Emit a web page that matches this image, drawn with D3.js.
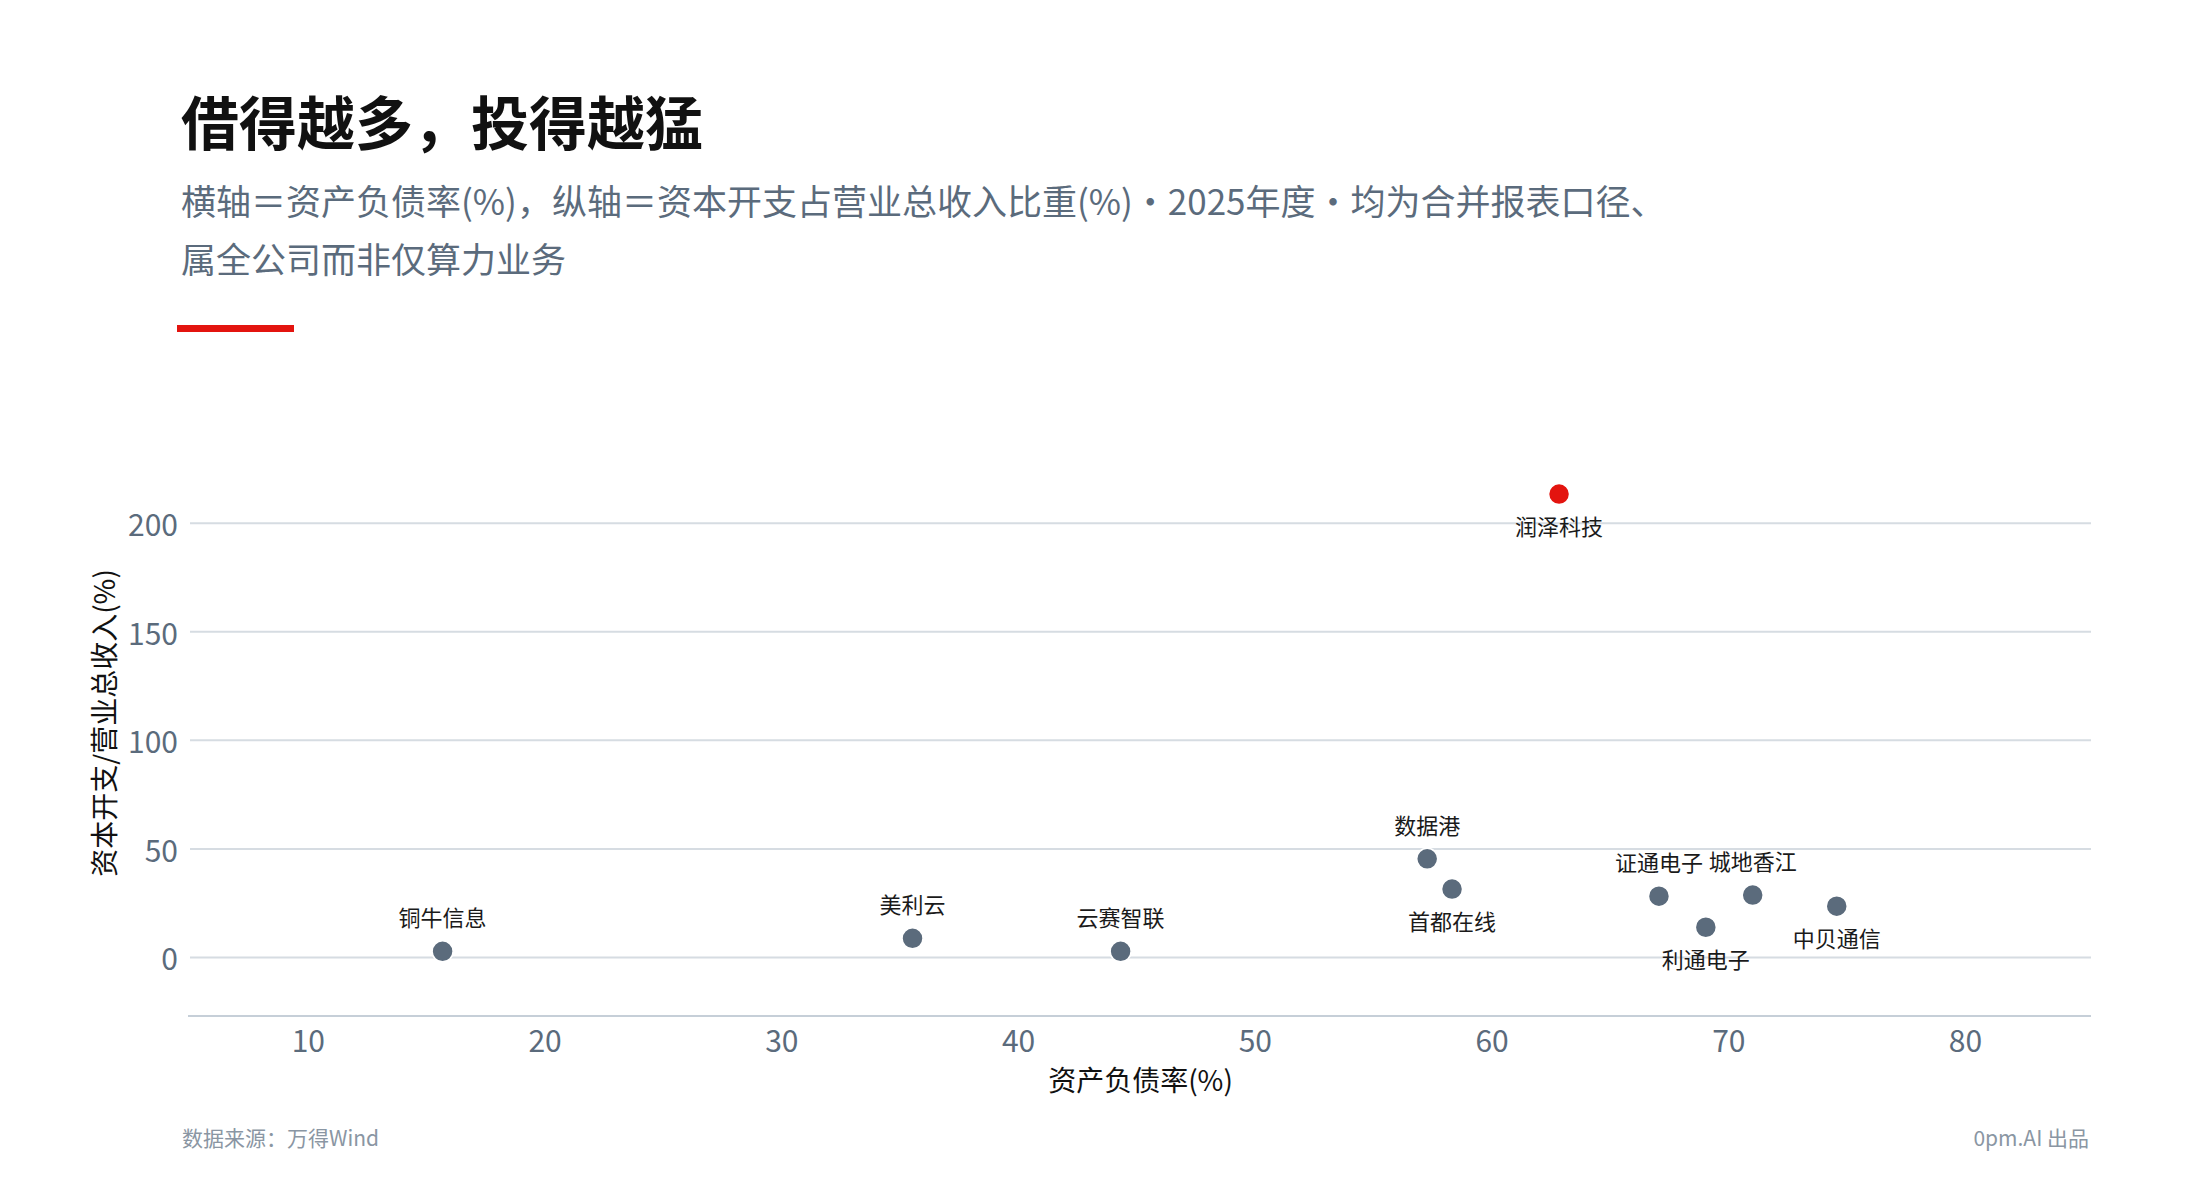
<!DOCTYPE html>
<html>
<head>
<meta charset="utf-8">
<script src="https://cdn.jsdelivr.net/npm/d3@7/dist/d3.min.js"></script>
<style>
  body { margin: 0; background: #fff; }
  svg { display: block; font-family: "Noto Sans CJK SC", "Noto Sans", sans-serif; }
</style>
</head>
<body>
<svg id="chart" width="2200" height="1200"></svg>
<script>
const companies = ['铜牛信息', '美利云', '云赛智联', '数据港', '首都在线', '润泽科技', '证通电子', '利通电子', '城地香江', '中贝通信'];
const debtRatio = [15.67, 35.52, 44.31, 57.26, 58.31, 62.83, 67.05, 69.03, 71.01, 74.56];
const capexRatio = [2.8, 8.8, 2.8, 45.4, 31.5, 213.5, 28.2, 13.9, 28.7, 23.6];
const xTicks = [10, 20, 30, 40, 50, 60, 70, 80];
const yTicks = [0, 50, 100, 150, 200];
const highlight = '润泽科技';

const svg = d3.select('#chart');
const margin = { left: 190, right: 2091, top: 430, bottom: 1016 };

const x = d3.scaleLinear().domain([5, 85.3]).range([margin.left, margin.right]);
const y = d3.scaleLinear().domain([-27, 243]).range([margin.bottom, margin.top]);

// header
svg.append('text')
  .attr('x', 181).attr('y', 145)
  .style('font-size', '58px').style('font-weight', 700).style('fill', '#111')
  .text('借得越多，投得越猛');

const sub = svg.append('text')
  .style('font-size', '35px').style('fill', '#5b6b7c');
sub.append('tspan').attr('x', 181).attr('y', 215)
  .text('横轴＝资产负债率(%)，纵轴＝资本开支占营业总收入比重(%)・2025年度・均为合并报表口径、');
sub.append('tspan').attr('x', 181).attr('y', 273)
  .text('属全公司而非仅算力业务');

svg.append('rect')
  .attr('x', 177).attr('y', 325).attr('width', 117).attr('height', 7)
  .style('fill', '#e3140f');

// grid
svg.append('g').selectAll('line')
  .data(yTicks)
  .enter()
  .append('line')
  .attr('x1', margin.left).attr('x2', margin.right)
  .attr('y1', (d) => y(d)).attr('y2', (d) => y(d))
  .style('stroke', '#d6dce2').style('stroke-width', 2);

svg.append('line')
  .attr('x1', margin.left - 2).attr('x2', margin.right)
  .attr('y1', margin.bottom).attr('y2', margin.bottom)
  .style('stroke', '#c6cfd8').style('stroke-width', 2);

svg.append('g').selectAll('text')
  .data(yTicks)
  .enter()
  .append('text')
  .attr('x', 178).attr('y', (d) => y(d))
  .attr('text-anchor', 'end').attr('dominant-baseline', 'central')
  .style('font-size', '30px').style('fill', '#5b6b7c')
  .text((d) => d);

svg.append('g').selectAll('text')
  .data(xTicks)
  .enter()
  .append('text')
  .attr('x', (d) => x(d)).attr('y', 1039)
  .attr('text-anchor', 'middle').attr('dominant-baseline', 'central')
  .style('font-size', '30px').style('fill', '#5b6b7c')
  .text((d) => d);

// axis titles
svg.append('text')
  .attr('x', (margin.left + margin.right) / 2).attr('y', 1079)
  .attr('text-anchor', 'middle').attr('dominant-baseline', 'central')
  .style('font-size', '28px').style('fill', '#111')
  .text('资产负债率(%)');

svg.append('text')
  .attr('transform', `translate(103, ${(margin.top + margin.bottom) / 2}) rotate(-90)`)
  .attr('text-anchor', 'middle').attr('dominant-baseline', 'central')
  .style('font-size', '28px').style('fill', '#111')
  .text('资本开支/营业总收入(%)');

// points
const points = companies.map((name, i) => ({ name, debt: debtRatio[i], capex: capexRatio[i] }));
const below = new Set(['首都在线', '润泽科技', '利通电子', '中贝通信']);

svg.append('g').selectAll('circle')
  .data(points)
  .enter()
  .append('circle')
  .attr('cx', (d) => x(d.debt))
  .attr('cy', (d) => y(d.capex))
  .attr('r', 10.5)
  .style('fill', (d) => (d.name === highlight ? '#e3140f' : '#5b6b7c'))
  .style('stroke', '#fff').style('stroke-width', 1.5);

svg.append('g').selectAll('text')
  .data(points)
  .enter()
  .append('text')
  .attr('x', (d) => x(d.debt))
  .attr('y', (d) => y(d.capex) + (below.has(d.name) ? 31 : -35))
  .attr('text-anchor', 'middle').attr('dominant-baseline', 'central')
  .style('font-size', '22px').style('fill', '#1a1a1a')
  .text((d) => d.name);

// footer
svg.append('text')
  .attr('x', 182).attr('y', 1137)
  .attr('dominant-baseline', 'central')
  .style('font-size', '21px').style('fill', '#8a96a3')
  .text('数据来源：万得Wind');

svg.append('text')
  .attr('x', margin.right - 2).attr('y', 1137)
  .attr('text-anchor', 'end').attr('dominant-baseline', 'central')
  .style('font-size', '21px').style('fill', '#8a96a3')
  .text('0pm.AI 出品');
</script>
</body>
</html>
